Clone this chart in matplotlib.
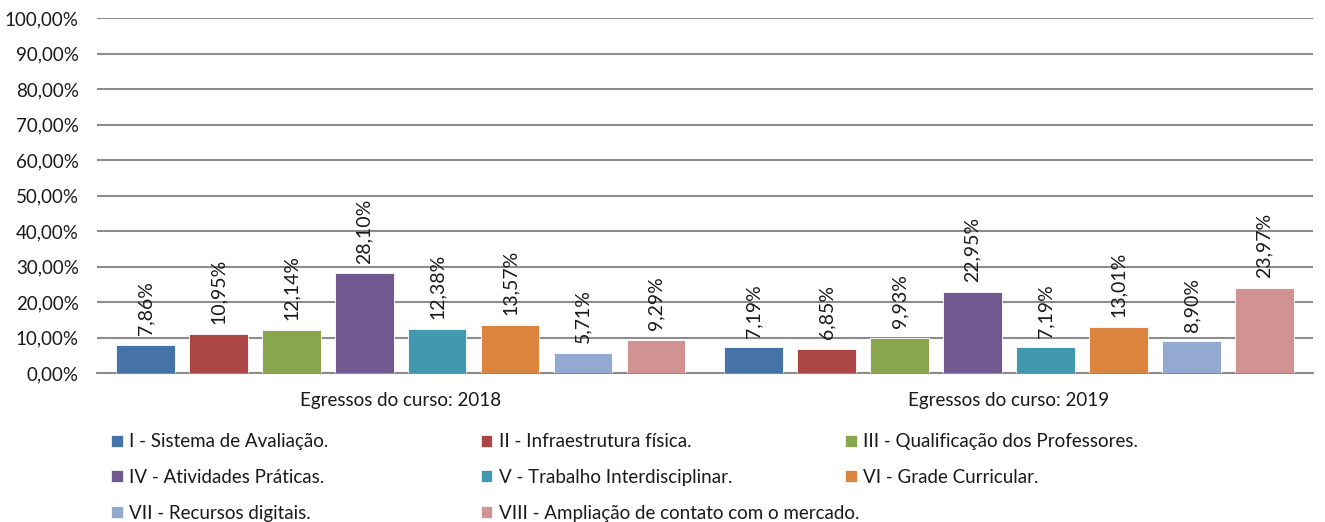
import numpy as np
import matplotlib.pyplot as plt
from matplotlib.patches import Patch

plt.rcParams['font.family'] = ['Lato', 'DejaVu Sans']

groups = ['Egressos do curso: 2018', 'Egressos do curso: 2019']
series = ['I - Sistema de Avaliação.', 'II - Infraestrutura física.',
          'III - Qualificação dos Professores.', 'IV - Atividades Práticas.',
          'V - Trabalho Interdisciplinar.', 'VI - Grade Curricular.',
          'VII - Recursos digitais.', 'VIII - Ampliação de contato com o mercado.']
v2018 = [7.86, 10.95, 12.14, 28.10, 12.38, 13.57, 5.71, 9.29]
v2019 = [7.19, 6.85, 9.93, 22.95, 7.19, 13.01, 8.90, 23.97]
colors = ['#4572A7', '#AA4643', '#89A54E', '#71588F',
          '#4198AF', '#DB843D', '#93A9CF', '#D19392']

fig = plt.figure(figsize=(13.25, 5.22), dpi=100)
ax = fig.add_axes([0.073, 0.2854, 0.918, 0.680])

x = np.arange(len(groups))
pitch = 0.12
width = 0.096
for i, name in enumerate(series):
    vals = [v2018[i], v2019[i]]
    pos = x + (i - 3.5) * pitch
    bars = ax.bar(pos, vals, width, color=colors[i], edgecolor='white', linewidth=0.6, zorder=3)
    for b, v in zip(bars, vals):
        ax.annotate(f'{v:.2f}%'.replace('.', ','), (b.get_x() + b.get_width() / 2, v),
                    xytext=(0, 7), textcoords='offset points',
                    rotation=90, ha='center', va='bottom', fontsize=14, color='#1a1a1a')

ax.set_xlim(-0.5, 1.5)
ax.set_ylim(0, 100)
ax.set_yticks(range(0, 101, 10))
ax.set_yticklabels([f'{t:.2f}%'.replace('.', ',') for t in range(0, 101, 10)], fontsize=13.5)
ax.set_xticks(x)
ax.set_xticklabels(groups, fontsize=13.5)
ax.tick_params(axis='both', length=0, colors='#1a1a1a')
ax.tick_params(axis='x', pad=14)
ax.tick_params(axis='y', pad=13)
ax.yaxis.grid(True, color='#8c8c8c', linewidth=1.5, zorder=0)
for s in ['top', 'right', 'left']:
    ax.spines[s].set_visible(False)
ax.spines['bottom'].set_color('#8c8c8c')
ax.spines['bottom'].set_linewidth(1.5)

handles = [Patch(facecolor=c, edgecolor='white', linewidth=0.5) for c in colors]
cols = [[0, 3, 6], [1, 4, 7], [2, 5]]
xs = [0.084, 0.363, 0.638]
for cx, idx in zip(xs, cols):
    fig.legend([handles[k] for k in idx], [series[k] for k in idx],
               loc='upper left', bbox_to_anchor=(cx, 0.170), frameon=False,
               fontsize=13.5, handlelength=0.6, handleheight=0.6,
               handletextpad=0.35, labelspacing=1.0, borderaxespad=0, borderpad=0,
               labelcolor='#1a1a1a')

fig.savefig('out.png', dpi=100)
